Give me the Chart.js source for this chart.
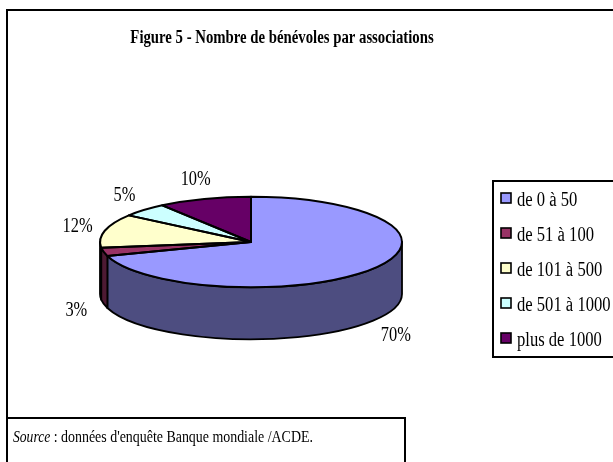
<!DOCTYPE html>
<html>
<head>
<meta charset="utf-8">
<script src="https://cdn.jsdelivr.net/npm/chart.js@4.4.1/dist/chart.umd.min.js"></script>
<style>
  html, body { margin: 0; padding: 0; background: #ffffff; }
  #wrap { width: 613px; height: 462px; position: relative; }
</style>
</head>
<body>
<div id="wrap"><canvas id="c" width="613" height="462"></canvas></div>
<script>
// ---- data ----
const categories = ['de 0 à 50', 'de 51 à 100', 'de 101 à 500', 'de 501 à 1000', 'plus de 1000'];
const shares = [70, 3, 12, 5, 10];
const topColors = ['#9999FF', '#993366', '#FFFFCC', '#CCFFFF', '#660066'];
const sideColors = ['#4D4D80', '#4D1A33', '#808066', '#668080', '#330033'];
const titleText = 'Figure 5 - Nombre de bénévoles par associations';
const sourceLabel = 'Source';
const sourceText = ' : données d\'enquête Banque mondiale /ACDE.';

// ---- look ----
const TILT = 0.3;      // vertical squash of the pie
const DEPTH = 52;      // thickness of the pie
const SERIF = '"Liberation Serif", "Times New Roman", serif';

// condensed text helper (horizontal squeeze, like a narrow Times face)
function condText(ctx, text, x, y, font, sx, align) {
  ctx.save();
  ctx.font = font;
  ctx.textAlign = align || 'left';
  ctx.textBaseline = 'alphabetic';
  ctx.translate(x, y);
  ctx.scale(sx, 1);
  ctx.fillText(text, 0, 0);
  const w = ctx.measureText(text).width * sx;
  ctx.restore();
  return w;
}

function visibleRanges(s, e) {
  const out = [];
  for (const k of [-4, -2, 0, 2, 4]) {
    const a = Math.max(s, k * Math.PI), b = Math.min(e, (k + 1) * Math.PI);
    if (b > a) out.push([a, b]);
  }
  return out;
}

const pie3d = {
  id: 'pie3d',
  beforeDraw(chart) {
    const ctx = chart.ctx;
    ctx.save();
    ctx.fillStyle = '#ffffff';
    ctx.fillRect(0, 0, chart.width, chart.height);
    ctx.restore();
  },
  beforeDatasetsDraw(chart) {
    const ctx = chart.ctx;
    const meta = chart.getDatasetMeta(0);
    const a0 = meta.data[0];
    const cx = a0.x, cy = a0.y, rx = a0.outerRadius, ry = rx * TILT;
    ctx.save();
    ctx.lineWidth = 1.8;
    ctx.strokeStyle = '#000';
    ctx.lineJoin = 'round';
    meta.data.forEach((arc, i) => {
      visibleRanges(arc.startAngle, arc.endAngle).forEach(([a, b]) => {
        ctx.beginPath();
        ctx.ellipse(cx, cy, rx, ry, 0, a, b, false);
        ctx.lineTo(cx + rx * Math.cos(b), cy + ry * Math.sin(b) + DEPTH);
        ctx.ellipse(cx, cy + DEPTH, rx, ry, 0, b, a, true);
        ctx.closePath();
        ctx.fillStyle = sideColors[i];
        ctx.fill();
        ctx.stroke();
      });
    });
    ctx.restore();
    ctx.save();
    ctx.translate(cx, cy);
    ctx.scale(1, TILT);
    ctx.translate(-cx, -cy);
  },
  afterDatasetsDraw(chart) {
    const ctx = chart.ctx;
    ctx.restore();
    const meta = chart.getDatasetMeta(0);
    const a0 = meta.data[0];
    const cx = a0.x, cy = a0.y, rx = a0.outerRadius, ry = rx * TILT;
    ctx.save();
    ctx.lineWidth = 2;
    ctx.strokeStyle = '#000';
    ctx.lineJoin = 'round';
    meta.data.forEach((arc) => {
      const s = arc.startAngle, e = arc.endAngle;
      ctx.beginPath();
      ctx.moveTo(cx, cy);
      ctx.lineTo(cx + rx * Math.cos(s), cy + ry * Math.sin(s));
      ctx.ellipse(cx, cy, rx, ry, 0, s, e, false);
      ctx.closePath();
      ctx.stroke();
    });
    // percentage labels
    ctx.fillStyle = '#000';
    meta.data.forEach((arc, i) => {
      const m = (arc.startAngle + arc.endAngle) / 2;
      const c = Math.cos(m), s = Math.sin(m);
      const x = cx + (rx + 28) * c;
      let y = cy + (ry + 22) * s;
      if (s > 0) y += DEPTH;
      condText(ctx, shares[i] + '%', x, y + 7, '20px ' + SERIF, 0.82, 'center');
    });
    ctx.restore();
  },
  afterDraw(chart) {
    const ctx = chart.ctx;
    ctx.save();
    ctx.strokeStyle = '#000';
    ctx.fillStyle = '#000';
    ctx.lineWidth = 2;
    // outer frame
    ctx.strokeRect(7, 10, 700, 500);
    // title
    condText(ctx, titleText, 282, 43, 'bold 18px ' + SERIF, 0.82, 'center');
    // legend
    ctx.strokeRect(493, 181, 140, 176);
    categories.forEach((lab, i) => {
      const base = 206 + i * 35;
      ctx.fillStyle = topColors[i];
      ctx.fillRect(501, base - 13, 10, 10);
      ctx.lineWidth = 1.6;
      ctx.strokeRect(501, base - 13, 10, 10);
      ctx.fillStyle = '#000';
      condText(ctx, lab, 517, base, '20px ' + SERIF, 0.83, 'left');
    });
    // source box
    ctx.lineWidth = 2;
    ctx.strokeRect(7, 418, 398, 70);
    const w = condText(ctx, sourceLabel, 13, 442, 'italic 16px ' + SERIF, 0.85, 'left');
    condText(ctx, sourceText, 13 + w, 442, '16px ' + SERIF, 0.87, 'left');
    ctx.restore();
  }
};

new Chart(document.getElementById('c'), {
  type: 'pie',
  data: {
    labels: categories,
    datasets: [{
      data: shares,
      backgroundColor: topColors,
      borderWidth: 0
    }]
  },
  options: {
    responsive: false,
    animation: false,
    events: [],
    layout: { padding: { left: 100, right: 211, top: 91, bottom: 69 } },
    plugins: {
      legend: { display: false },
      title: { display: false },
      tooltip: { enabled: false }
    }
  },
  plugins: [pie3d]
});
</script>
</body>
</html>
